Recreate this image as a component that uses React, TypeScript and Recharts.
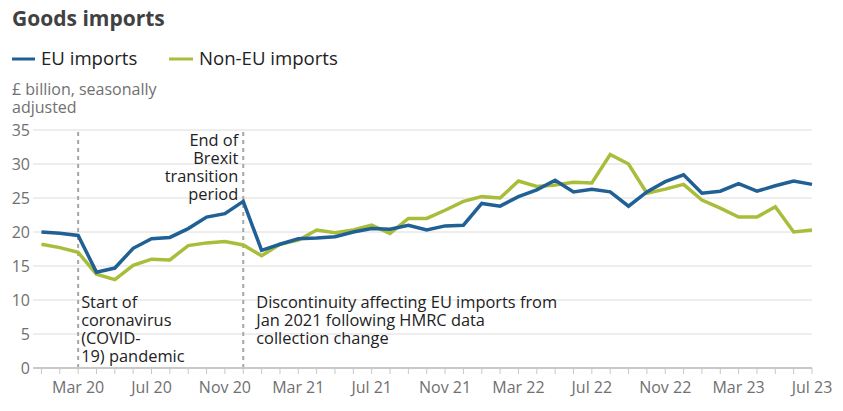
import * as React from "react";
import {
  LineChart,
  Line,
  XAxis,
  YAxis,
  CartesianGrid,
  ReferenceLine,
} from "recharts";

// Jan 2020 .. Jul 2023, one entry per month
const months = [
  "Jan 20", "Feb 20", "Mar 20", "Apr 20", "May 20", "Jun 20", "Jul 20", "Aug 20", "Sep 20", "Oct 20", "Nov 20", "Dec 20",
  "Jan 21", "Feb 21", "Mar 21", "Apr 21", "May 21", "Jun 21", "Jul 21", "Aug 21", "Sep 21", "Oct 21", "Nov 21", "Dec 21",
  "Jan 22", "Feb 22", "Mar 22", "Apr 22", "May 22", "Jun 22", "Jul 22", "Aug 22", "Sep 22", "Oct 22", "Nov 22", "Dec 22",
  "Jan 23", "Feb 23", "Mar 23", "Apr 23", "May 23", "Jun 23", "Jul 23",
];

const euImports = [
  20.0, 19.8, 19.5, 14.1, 14.7, 17.6, 19.0, 19.2, 20.5, 22.2, 22.7, 24.5,
  17.3, 18.2, 19.0, 19.1, 19.3, 20.0, 20.5, 20.4, 21.0, 20.3, 20.9, 21.0,
  24.2, 23.8, 25.2, 26.2, 27.6, 25.9, 26.3, 25.9, 23.8, 25.9, 27.4, 28.4,
  25.7, 26.0, 27.1, 26.0, 26.8, 27.5, 27.0,
];

const nonEuImports = [
  18.2, 17.7, 17.0, 13.8, 13.0, 15.1, 16.0, 15.9, 18.0, 18.4, 18.6, 18.1,
  16.5, 18.2, 18.8, 20.3, 19.9, 20.3, 21.0, 19.8, 22.0, 22.0, 23.2, 24.5,
  25.2, 25.0, 27.5, 26.7, 26.9, 27.3, 27.2, 31.4, 30.0, 25.7, 26.3, 27.0,
  24.7, 23.5, 22.2, 22.2, 23.7, 20.0, 20.3,
];

const labelledMonths = ["Mar 20", "Jul 20", "Nov 20", "Mar 21", "Jul 21", "Nov 21", "Mar 22", "Jul 22", "Nov 22", "Mar 23", "Jul 23"];
const yTicks = [0, 5, 10, 15, 20, 25, 30, 35];

const covidLabel = ["Start of", "coronavirus", "(COVID-", "19) pandemic"];
const brexitLabel = ["End of", "Brexit", "transition", "period"];
const discontinuityLabel = ["Discontinuity affecting EU imports from", "Jan 2021 following HMRC data", "collection change"];

const EU_COLOR = "#206095";
const NON_EU_COLOR = "#a8bd3a";
const GREY_TEXT = "#707071";
const FONT = "'Open Sans', sans-serif";

const data = months.map((m, i) => ({
  i,
  month: m,
  eu: euImports[i],
  nonEu: nonEuImports[i],
}));

function MonthTick({ x, y, payload }: any) {
  const label = months[payload.value];
  if (!labelledMonths.includes(label)) return null;
  return (
    <text x={x} y={y + 17} textAnchor="middle" fill={GREY_TEXT} fontSize={16} fontFamily={FONT}>
      {label}
    </text>
  );
}

function MultiLine({ lines, x, y, anchor }: { lines: string[]; x: number; y: number; anchor: "start" | "end" }) {
  return (
    <text x={x} y={y} textAnchor={anchor} fill="#222222" fontSize={16.4} fontFamily={FONT}>
      {lines.map((l, k) => (
        <tspan key={k} x={x} dy={k === 0 ? 0 : 18}>
          {l}
        </tspan>
      ))}
    </text>
  );
}

export default function App() {
  return (
    <div style={{ position: "absolute", left: 0, top: 0, width: 843, height: 411, background: "#fff", fontFamily: FONT }}>
      <svg width={843} height={130} style={{ position: "absolute", left: 0, top: 0 }}>
        <text x={12} y={26} fontSize={21} fontWeight={700} fill="#414042" fontFamily={FONT}>
          Goods imports
        </text>
        <line x1={12} x2={35} y1={59} y2={59} stroke={EU_COLOR} strokeWidth={3} />
        <text x={41} y={65} fontSize={18.6} fill="#222222" fontFamily={FONT}>
          EU imports
        </text>
        <line x1={169} x2={193} y1={59} y2={59} stroke={NON_EU_COLOR} strokeWidth={3} />
        <text x={199} y={65} fontSize={18.6} fill="#222222" fontFamily={FONT}>
          Non-EU imports
        </text>
        <text x={12} y={95} fontSize={16} fill={GREY_TEXT} fontFamily={FONT}>
          £ billion, seasonally
        </text>
        <text x={12} y={113} fontSize={16} fill={GREY_TEXT} fontFamily={FONT}>
          adjusted
        </text>
      </svg>
      <div style={{ position: "absolute", left: 0, top: 0 }}>
        <LineChart
          width={843}
          height={411}
          data={data}
          margin={{ top: 130, right: 31, bottom: 0, left: 0 }}
        >
          <CartesianGrid horizontal vertical={false} stroke="#dcdcdc" strokeWidth={1} />
          <XAxis
            dataKey="i"
            type="number"
            domain={[-0.46, 42]}
            ticks={months.map((_, i) => i)}
            interval={0}
            tick={<MonthTick />}
            tickLine={{ stroke: "#c8c8c8", strokeWidth: 1 }}
            tickSize={6}
            axisLine={{ stroke: "#c8c8c8", strokeWidth: 2 }}
            height={43}
          />
          <YAxis
            domain={[0, 35]}
            ticks={yTicks}
            width={33}
            tickLine={false}
            axisLine={false}
            tickSize={0}
            tickMargin={3}
            tick={{ fill: GREY_TEXT, fontSize: 16, fontFamily: FONT }}
          />
          <ReferenceLine
            x={2}
            stroke="#a6a6a6"
            strokeWidth={2}
            strokeDasharray="4 4"
            label={({ viewBox }: any) => (
              <MultiLine lines={covidLabel} x={viewBox.x + 3} y={308} anchor="start" />
            )}
          />
          <ReferenceLine
            x={11}
            stroke="#a6a6a6"
            strokeWidth={2}
            strokeDasharray="4 4"
            label={({ viewBox }: any) => (
              <g>
                <MultiLine lines={brexitLabel} x={viewBox.x - 5} y={146} anchor="end" />
                <MultiLine lines={discontinuityLabel} x={viewBox.x + 13} y={308} anchor="start" />
              </g>
            )}
          />
          <Line
            type="linear"
            dataKey="nonEu"
            stroke={NON_EU_COLOR}
            strokeWidth={3.5}
            dot={false}
            isAnimationActive={false}
          />
          <Line
            type="linear"
            dataKey="eu"
            stroke={EU_COLOR}
            strokeWidth={3.5}
            dot={false}
            isAnimationActive={false}
          />
        </LineChart>
      </div>
    </div>
  );
}
